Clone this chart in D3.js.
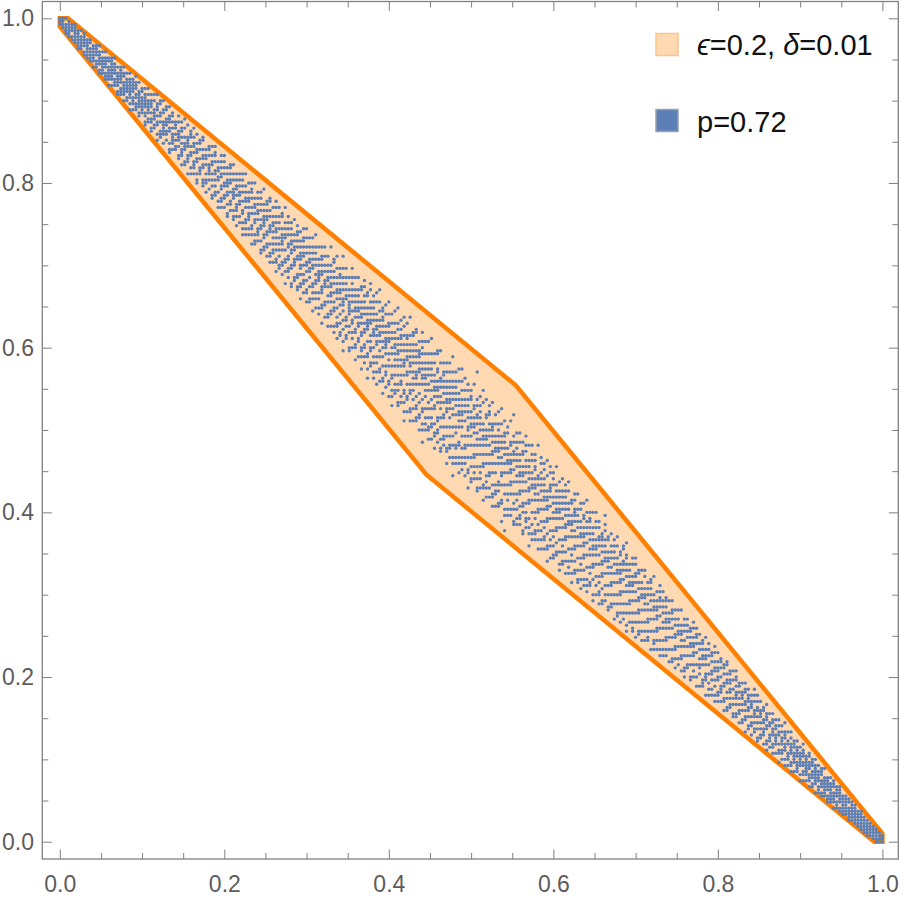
<!DOCTYPE html>
<html><head><meta charset="utf-8">
<script src="https://cdn.jsdelivr.net/npm/d3@7"></script>
<style>body{margin:0;background:#fff}svg{display:block}</style>
</head><body><svg id="c" width="904" height="902"></svg>
<script>
// ---------- data ----------
const latticeN = 270;
// offset alphabet: 'a' = 0, 'b' = +1 ... ; 'Z' = -1, 'Y' = -2 ...
const offsetAlphabet = "ABCDEFGHIJKLMNOPQRSTUVWXYZabcdefghijklmnopqrstuvwxyz";
// one string per lattice column i (x = i/N); each char = one point's offset from the diagonal
const columnOffsets = [
"YZa","YZab","XYZac","XYZabc","XYabc","XYZabcd","WXYZabc","XYZabd","WXZabcd","WXYZabc",
"WXYZacd","VXYZabc","WXYabcd","VWYZabce","WXYZabd","VWXZabce","UWXYZacd","VXYZabcde","WXYabcdf","UVXYZabd",
"VWXZabcde","UWXYZacdf","VWYZabce","TVXYZabcdf","UWXYabcde","VWXZacdeg","UVXYZabcf","WXYZabde","TUWXZabcdf","VWYZabceg",
"TUWXZbcdf","VWYZabeg","SUXYacdeh","UVWZbcfg","TWXYZadeh","VXYabcfg","STVZacdeh","UWXYZbdfg","VWYacde","TUXZabcfh",
"SVWXZbdeg","TUYZacfi","RVWXabcdh","SUYZbefg","TVWXacdfi","RSUYZbceh","VWXadfg","STUYZbcehi","RUVXacdf","TWYZabegh",
"RSVXZcdfi","TUWYabeghj","QSVZacdf","RTUXYbcegi","SVWZadfhj","QRUXYabceg","TVWZcdfhi","RSUYZabegj","QTVWXacdfh","SUYZbcegi",
"PRTWXadfhj","QSUVZbcegk","RTWXYacdfi","PSUVZbeghj","QRTXYacdfk","SUVWZbcegi","PQTXYadfhj","RSVWZabcegl","QTUXYcdfhi","PRSVZabegjk",
"QTUWYacdfi","ORSVXZbcegjl","QRUWYadfhk","PSTXZabceij","NRUVYcdfhm","QSTWXabegik","OPUVZacdfhj","RSWXYbcegl","PQTUZadfhik","NRSVXYabcegj",
"QTUWZcdfhil","ORSVYabegjm","PQUXZacdfhk","NRTVWbcegil","PSUXYadfhjn","OQTVZabcegk","MRSWXYcdfhil","PTUZabegjm","NQRVXacdfhk","OSTWYZbcegio",
"NPUVXadfhkl","MQRTWZbcegjn","OPSVYacdfhik","KNRUXZabegilp","PQTVWcdfhjm","MNSUYZabcegk","ORTWXadfhjlo","LPQUVZbcegim","NSTXYacdfhjn","KOQRVWZbcegkl",
"NPSTXYadfhjmo","JMQRVZabcegkl","OPTUWYcdfhjnp","LNQSVZabegikm","KORTXYacdfhlo","MPQUWZbcegjmq","JNOSVYadfhikl","MQRTXZabcegkn","KOPUWYcdfhilp","ILNRSVZbegjm",
"NOQTWYacdfhko","KLPRUXZbcegjlq","MOSTVYadfhikn","HKNQRWZabegjmp","LPQUXYcdfhjko","JMNSTVZbcegilr","KORUWYadfhjmn","LMPQTXZabegikop","JNOSVYcdfhijm","GKMQRUZbcegjlnq",
"LNPSWYacdfhko","JMNQTVZbegilp","KOPRUXadfhjmr","IMNQVWZbcegkn","LOPSTYacdfijop","JKNRUXZbeghmq","MOPSVWadfhjkn","HLMQTYZbcegilo","KNORUXacdfhjmp","FJLPSVZbegikns",
"KMPQUWadfhjlo","ILNRSXZbcegimq","KMORVYacdfhknr","JNPSTWbegilp","GLMQUXZadfhjmo","JKORVYbcegkln","LNPSTWacdfijq","IJMQUXZbeghkmv","KNPRVYadfhjlo","HLMSTWZbcegnr",
"JMOQUXacdfjkp","KNRSVYbegilmo","ILMPTWZadfhijq","JNOQUXbcegkn","KLPRSYacdfhjlp","GMNSVWZbegimr","EJLQTXadfhjko","KMPRUYbcegln","LNSVWZacdfijq","JKOQTXbeghkmt",
"KMPSUYadfhjlo","LNORVWZbcegimp","JKQSTXacdfjkn","MOPRUYbegilnq","HLNQVWZadfhjo","KMPTXbcegkmp","LNOSUYacdfijln","JMPRVWZbeghr","KNQTXadfhjmo","LOPSUYbcegiln",
"IMNRVWZacdfkp","KOQTXbeghimo","LMPSUYadfjln","NORVWZbcegikq","JLPTXacdfhjm","MNQSUYbegiko","KORVWZadfhjln","LNPTXbcegimp","JMQSUYacdfjk","NORVWZbeghiln",
"LMPTXadfhjo","KNQSUYbcegkm","MORVWZacdfijn","LNPTXbegilp","OPSUYadfhjkm","KMRVWZbcegin","NQTXacdfjlo","LOPSUYbeghkm","MNRVWZadfhij","OQTXbcegilnq",
"MNRUYacdfjk","OPSVWZbegim","LQTXadfhjl","NORUYbcegkn","MPSVWZacdfij","OQTXbeghlm","LNRUYadfhjko","PSVWZbcegi","NOQTXacdfjl","MRUYbeghkm",
"OPSVWZadfij","NQTXbcegk","ORUYacdfjl","PQSVWZbegi","NTXadfhjk","OQRUYbcegm","PSVWZacdfi","OQTXbeghjl","PRUYadfhk","QSVWZbcegij",
"PTXacdfj","QRUYbeghk","PSVWZadfi","RTXbcegj","QUVYacdfk","PRSWZbegi","TUXadfhj","QRVYbcegh","SUWZacdfik","QTXbeghj",
"RVXYadfi","STUZbcegh","QVWXacdfj","RTVYbegi","SUXZadfg","RTWYbcehj","SUVZacdfi","TWXYbegh","RUVZadfg","STWYbcehi",
"UVXZacdfg","STWYbeh","TUXZabdfgi","SVWYacef","TUXZbcdg","RVWYabefh","TUXZacdeg","SVWYbcdf","UVXZabegi","STWYacdfh",
"UVXZbcdg","TWXYabef","SUVZacdeh","UWXYbcf","TVWZabdeg","UXYZacdf","SVWYbceg","UWXZabdf","TVYZacdeh","UWXYbcf",
"TVWZabceg","UXYZacde","VWXYabcdf","TVYZabce","UWXZacdeg","VXYZabcd","UWXYabcef","VWYZacde","UXYZabcdf","VWXZabce",
"VWYZacde","WXYZabcf","VWXZabcd","WXYZabce","VXYZacde","WXYabcd","WXZabcde","WXYZabc","XYZabcd","WXYZacd",
"XYZabcd","XYZabcd","XYZabc","XYZabcd","XYZabc","XYZabc","YZabc","YZabc","YZabc","Zabc",
"abc"
];
// (epsilon=0.2, delta=0.01) privacy region vertices
const regionVertices = [[0,0.99],[0.4457,0.4457],[0.99,0],[1,0],[1,0.01],[0.5543,0.5543],[0.01,1],[0,1]];
const majorTicks = [0,0.2,0.4,0.6,0.8,1.0];
const tickLabels = ["0.0","0.2","0.4","0.6","0.8","1.0"];
const minorTicks = [0.05,0.1,0.15,0.25,0.3,0.35,0.45,0.5,0.55,0.65,0.7,0.75,0.85,0.9,0.95];

// ---------- drawing ----------
const svg = d3.select("#c");
const x = d3.scaleLinear().domain([0,1]).range([59.8,882.4]);
const y = d3.scaleLinear().domain([0,1]).range([841.7,18.3]);
const frame = {l:42.3, r:898.3, t:1.5, b:859};
const ORANGE = "#FF8000", BLUE = "#5B7FB6", GRAY = "#808080";
const FONT = "'Liberation Sans', Arial, sans-serif";

// region polygon
svg.append("path")
  .attr("d", d3.line().x(d=>x(d[0])).y(d=>y(d[1]))(regionVertices) + "Z")
  .attr("fill", ORANGE).attr("fill-opacity", 0.3)
  .attr("stroke", ORANGE).attr("stroke-width", 4.5).attr("stroke-linejoin", "miter");

// points
const pts = [];
columnOffsets.forEach((s, i) => {
  for (const ch of s) {
    const d = offsetAlphabet.indexOf(ch) - 26;
    pts.push([i / latticeN, (latticeN - i + d) / latticeN]);
  }
});
svg.append("g").selectAll("circle").data(pts).join("circle")
  .attr("cx", d=>x(d[0])).attr("cy", d=>y(d[1])).attr("r", 1.7).attr("fill", BLUE);

// frame
svg.append("rect").attr("x", frame.l).attr("y", frame.t)
  .attr("width", frame.r-frame.l).attr("height", frame.b-frame.t)
  .attr("fill","none").attr("stroke",GRAY).attr("stroke-width",1.3);

function style(g){
  g.select(".domain").remove();
  g.selectAll("line").attr("stroke", GRAY).attr("stroke-width", 1);
  g.attr("font-size", 23).attr("font-family", FONT);
  g.selectAll("text").attr("fill", "#5c5c5c");
}
const fmt = (d) => tickLabels[majorTicks.indexOf(d)];
// bottom
svg.append("g").attr("transform",`translate(0,${frame.b})`)
  .call(d3.axisBottom(x).tickValues(majorTicks).tickSize(-9.5).tickPadding(16.7).tickFormat(fmt)).call(style);
svg.append("g").attr("transform",`translate(0,${frame.b})`)
  .call(d3.axisBottom(x).tickValues(minorTicks).tickSize(-6).tickFormat("")).call(style);
// left
svg.append("g").attr("transform",`translate(${frame.l},0)`)
  .call(d3.axisLeft(y).tickValues(majorTicks).tickSize(-9.5).tickPadding(8.3).tickFormat(fmt)).call(style);
svg.append("g").attr("transform",`translate(${frame.l},0)`)
  .call(d3.axisLeft(y).tickValues(minorTicks).tickSize(-6).tickFormat("")).call(style);
// top
svg.append("g").attr("transform",`translate(0,${frame.t})`)
  .call(d3.axisTop(x).tickValues(majorTicks).tickSize(-9.5).tickFormat("")).call(style);
svg.append("g").attr("transform",`translate(0,${frame.t})`)
  .call(d3.axisTop(x).tickValues(minorTicks).tickSize(-6).tickFormat("")).call(style);
// right
svg.append("g").attr("transform",`translate(${frame.r},0)`)
  .call(d3.axisRight(y).tickValues(majorTicks).tickSize(-9.5).tickFormat("")).call(style);
svg.append("g").attr("transform",`translate(${frame.r},0)`)
  .call(d3.axisRight(y).tickValues(minorTicks).tickSize(-6).tickFormat("")).call(style);

// legend
const lg = svg.append("g").attr("font-family", FONT).attr("font-size", 29).attr("fill", "#111");
lg.append("rect").attr("x",656).attr("y",33.5).attr("width",22).attr("height",22)
  .attr("fill","#FFD9B2").attr("stroke","#FFC38A").attr("stroke-width",1.5);
const t1 = lg.append("text").attr("x",697).attr("y",55);
t1.append("tspan").attr("font-style","italic").text("ϵ");
t1.append("tspan").text("=0.2, ");
t1.append("tspan").attr("font-style","italic").text("δ");
t1.append("tspan").text("=0.01");
lg.append("rect").attr("x",656).attr("y",109.5).attr("width",22).attr("height",22)
  .attr("fill",BLUE).attr("stroke","#98a1ae").attr("stroke-width",1.5);
lg.append("text").attr("x",697).attr("y",131.5).text("p=0.72");
</script></body></html>
